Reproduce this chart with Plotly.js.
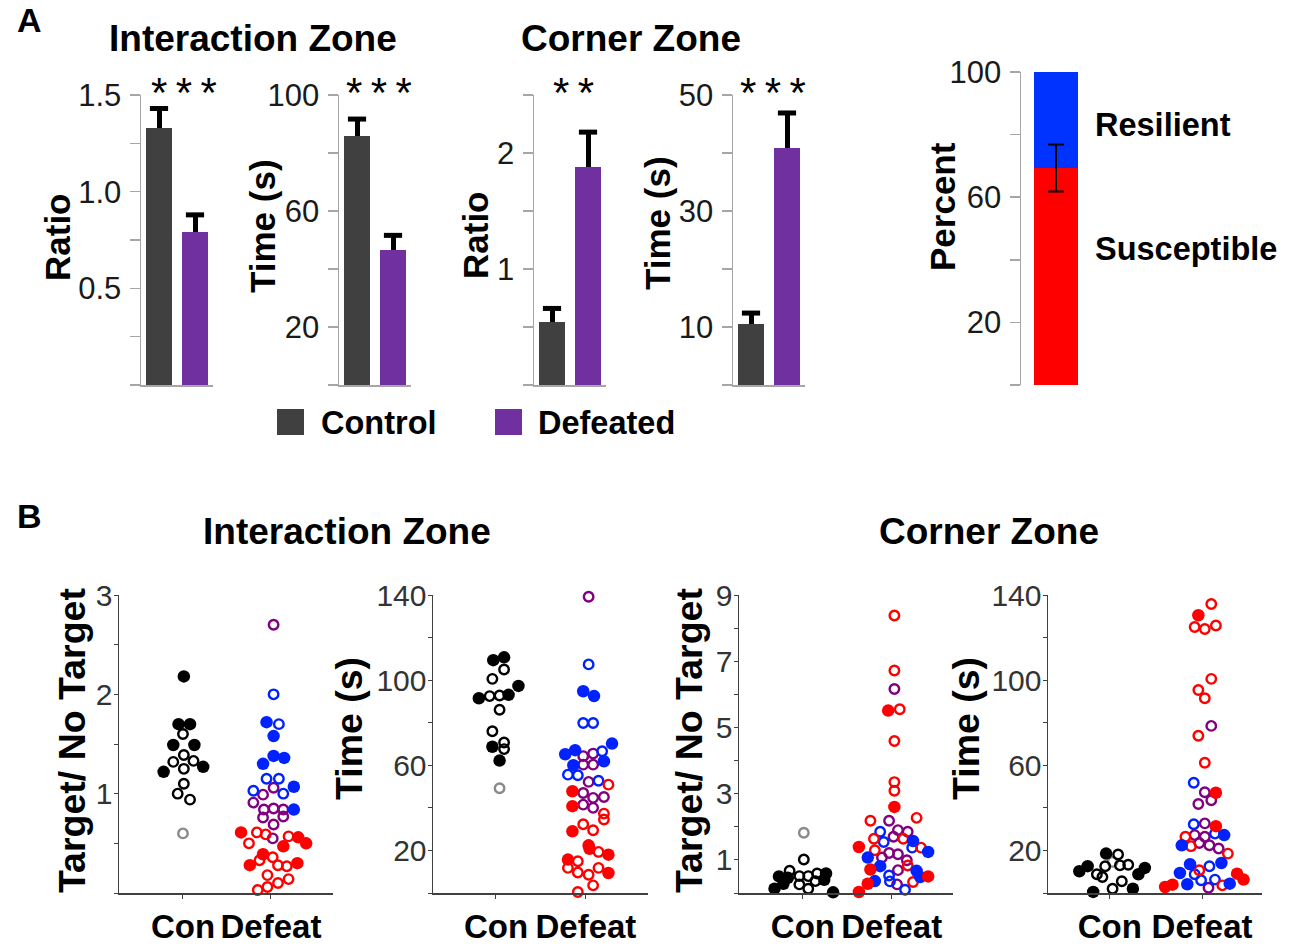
<!DOCTYPE html>
<html><head><meta charset="utf-8">
<script src="https://cdn.plot.ly/plotly-3.0.1.min.js"></script>
<style>html,body{margin:0;padding:0;background:#fff}#chart{width:1293px;height:945px}</style>
</head><body><div id="chart"></div>
<script>
// ---------- Panel A data ----------
const groupNames = ['Control', 'Defeated'];
const intRatioMean = [1.33, 0.79];
const intRatioErr  = [0.10, 0.09];
const intTimeMean  = [85.9, 46.5];
const intTimeErr   = [5.8, 5.1];
const cornRatioMean = [0.54, 1.88];
const cornRatioErr  = [0.12, 0.30];
const cornTimeMean  = [10.5, 40.8];
const cornTimeErr   = [1.9, 6.1];
const phenotypeNames = ['Susceptible', 'Resilient'];
const susceptiblePct = 69.3;
const resilientPct = 30.7;
const susceptibleErr = 7.5;

// ---------- Panel B data (y values and swarm offsets) ----------
// B1: Interaction zone, Target / No Target
const b1ConFillY = [2.18,1.70,1.70,1.49,1.49,1.22,1.27];
const b1ConFillD = [0.01,-0.05,0.08,-0.11,0.13,-0.22,0.23];
const b1ConOpenY = [1.60,1.39,1.32,1.33,1.25,1.10,1.00,0.94];
const b1ConOpenD = [0,0.01,-0.11,0.12,0.01,0.01,-0.06,0.08];
const b1ConGrayY = [0.60];
const b1ConGrayD = [0];
const b1PurOpenY = [2.70,0.99,1.06,0.91,0.84,0.85,0.84,0.76,0.77,0.69,0.55];
const b1PurOpenD = [0.03,-0.09,0.03,-0.20,-0.08,0.03,0.14,-0.09,0.14,0.03,0.02];
const b1BluOpenY = [2.00,1.70,1.15,1.15,1.03,1.00];
const b1BluOpenD = [0.03,0.09,-0.05,0.09,-0.20,0.14];
const b1BluFillY = [1.72,1.58,1.38,1.36,1.30,1.07,0.84];
const b1BluFillD = [-0.05,0.03,0.03,0.15,-0.09,0.26,0.26];
const b1RedOpenY = [0.61,0.59,0.50,0.57,0.33,0.36,0.28,0.27,0.18,0.10,0.14,0.06,0.03];
const b1RedOpenD = [-0.16,-0.06,-0.25,0.20,-0.13,0.02,0.08,0.18,-0.04,0.08,0.20,-0.04,-0.15];
const b1RedFillY = [0.61,0.47,0.56,0.50,0.39,0.28,0.30];
const b1RedFillD = [-0.34,0.14,0.31,0.40,-0.09,-0.24,0.30];
// B2: Interaction zone, Time (s)
const b2ConFillY = [109.4,110.7,97.3,93.1,91.5,68.7,62.2];
const b2ConFillD = [-0.03,0.09,0.25,0.14,-0.19,-0.04,0.04];
const b2ConOpenY = [105.0,100.6,92.5,92.8,86.1,76.0,70.7,67.6];
const b2ConOpenD = [0.09,-0.04,-0.07,0.04,0.04,-0.04,0.09,0.09];
const b2ConGrayY = [49.2];
const b2ConGrayD = [0.04];
const b2PurOpenY = [139.2,64.3,65.5,60.3,60.3,52.2,47.0,44.7,45.1,41.5,40.0];
const b2PurOpenD = [0.03,-0.03,0.08,-0.03,0.08,0.03,-0.03,0.08,0.20,-0.03,0.08];
const b2BluOpenY = [107.4,79.9,79.9,66.6,55.6,55.3,52.7];
const b2BluOpenD = [0.03,-0.03,0.08,0.18,-0.20,-0.09,0.14];
const b2BluFillY = [94.8,92.5,65.2,67.1,70.2,61.9,60.0];
const b2BluFillD = [-0.03,0.09,-0.23,-0.12,0.29,0.20,-0.14];
const b2RedOpenY = [50.9,37.3,34.5,32.3,29.5,19.3,14.9,11.8,9.6,11.8,8.6,3.6,0.5];
const b2RedOpenD = [0.25,0.20,0.20,-0.03,0.08,0.14,-0.09,-0.20,-0.09,0.14,0.03,0.08,-0.09];
const b2RedFillY = [47.8,40.8,29.0,22.4,20.8,18.0,15.7,9.4];
const b2RedFillD = [-0.15,-0.15,-0.15,0.03,0.04,0.25,-0.20,0.25];
// B3: Corner zone, Target / No Target
const b3ConFillY = [0.50,0.13,0.28,0.46,0.59,0.40,0.02];
const b3ConFillD = [-0.27,-0.32,-0.22,-0.17,0.26,0.24,0.34];
const b3ConOpenY = [1.01,0.67,0.51,0.51,0.59,0.36,0.26,0.13];
const b3ConOpenD = [0.01,-0.15,-0.04,0.06,0.16,0.14,-0.04,0.06];
const b3ConGrayY = [1.82];
const b3ConGrayD = [0.01];
const b3PurOpenY = [6.16,2.18,1.90,1.85,1.70,1.21,1.17,1.07,0.99,0.69,0.26];
const b3PurOpenD = [0.03,-0.03,0.07,0.18,0.02,-0.03,0.07,-0.11,0.17,0.07,0.06];
const b3BluOpenY = [1.85,1.54,1.37,0.53,0.35,0.10];
const b3BluOpenD = [-0.13,-0.09,0.23,-0.03,-0.02,0.15];
const b3BluFillY = [1.07,0.81,1.57,1.24,0.67,0.48,0.36];
const b3BluFillD = [-0.27,-0.13,0.24,0.41,0.28,0.32,-0.19];
const b3RedOpenY = [8.38,6.72,5.55,4.59,3.35,3.09,2.18,2.27,1.64,1.29,1.64,1.37,0.83,0.33];
const b3RedOpenD = [0.03,0.03,0.09,0.03,0.03,0.03,-0.24,0.28,-0.20,-0.19,0.13,0.33,0.18,0.24];
const b3RedFillY = [5.51,2.60,1.39,0.71,0.28,0.03,0.50];
const b3RedFillD = [-0.04,0.03,-0.37,-0.24,-0.27,-0.37,0.41];
// B4: Corner zone, Time (s)
const b4ConFillY = [18.5,10.2,12.6,8.8,11.8,2.0,0.5];
const b4ConFillD = [-0.04,-0.33,-0.24,0.31,0.38,0.25,-0.18];
const b4ConOpenY = [18.1,12.6,13.0,13.3,8.8,7.5,5.5,2.0];
const b4ConOpenD = [0.09,-0.05,0.11,0.20,-0.14,-0.08,0.13,0.03];
const b4ConGrayY = [14.6];
const b4ConGrayD = [0.03];
const b4PurOpenY = [78.5,47.3,41.8,43.6,32.7,27.2,26.4,23.5,22.4,20.9,2.5];
const b4PurOpenD = [0.10,0.03,-0.04,0.10,0.03,-0.08,0.03,-0.03,0.08,0.18,0.07];
const b4BluOpenY = [51.8,32.3,27.9,12.6,8.8,6.0,6.3];
const b4BluOpenD = [-0.09,-0.09,0.14,0.08,-0.08,-0.01,0.14];
const b4BluFillY = [22.4,27.2,13.5,14.1,9.4,4.1,4.4];
const b4BluFillD = [-0.22,0.24,-0.13,0.21,-0.24,-0.16,0.30];
const b4RedOpenY = [135.8,125.0,124.0,125.7,100.6,95.4,91.5,73.9,61.2,26.4,22.0,18.5,10.7,3.6];
const b4RedOpenD = [0.10,-0.08,0.03,0.15,0.10,-0.04,0.03,-0.04,0.03,-0.18,-0.12,0.28,-0.03,0.22];
const b4RedFillY = [130.5,47.1,31.4,2.8,3.9,9.1,6.3];
const b4RedFillD = [-0.04,0.15,0.15,-0.40,-0.32,0.38,0.45];

const xCategories = ['Con', 'Defeat'];

// ---------- styling ----------
const W = 1293, H = 945;
const px = x => x / W;
const py = y => 1 - y / H;
const FONT = 'Liberation Sans, Arial, Helvetica, sans-serif';
const C_CTRL = '#404040', C_DEF = '#7030a0';
const C_RED = '#ff0000', C_BLUE = '#0022ff', C_PUR = '#800080', C_BLK = '#000000', C_GRAY = '#8a8a8a';

const traces = [];
function barPanel(n, mean, err) {
  traces.push({
    type: 'bar', x: [0, 1], y: mean, xaxis: 'x' + n, yaxis: 'y' + n, width: 0.72,
    marker: {color: [C_CTRL, C_DEF], line: {width: 0}},
    error_y: {type: 'data', array: err, arrayminus: [0, 0], symmetric: false, thickness: 5, width: 0, color: '#000'},
    hoverinfo: 'skip', showlegend: false, name: groupNames.join('/')
  });
  traces.push({
    type: 'scatter', mode: 'markers', x: [0, 1], y: mean.map((v, i) => v + err[i]),
    xaxis: 'x' + n, yaxis: 'y' + n, cliponaxis: false,
    marker: {symbol: 'line-ew-open', size: 13, color: '#000', line: {width: 5, color: '#000'}},
    hoverinfo: 'skip', showlegend: false
  });
}
barPanel(1, intRatioMean, intRatioErr);
barPanel(2, intTimeMean, intTimeErr);
barPanel(3, cornRatioMean, cornRatioErr);
barPanel(4, cornTimeMean, cornTimeErr);

traces.push({type: 'bar', x: [0], y: [susceptiblePct], xaxis: 'x5', yaxis: 'y5', width: 0.64,
  marker: {color: C_RED, line: {width: 0}}, name: phenotypeNames[0], showlegend: false, hoverinfo: 'skip'});
traces.push({type: 'bar', x: [0], y: [resilientPct], xaxis: 'x5', yaxis: 'y5', width: 0.64,
  marker: {color: '#0033ff', line: {width: 0}}, name: phenotypeNames[1], showlegend: false, hoverinfo: 'skip'});
traces.push({type: 'scatter', mode: 'markers', x: [0], y: [susceptiblePct], xaxis: 'x5', yaxis: 'y5',
  marker: {size: 1, color: 'rgba(0,0,0,0)'},
  error_y: {type: 'data', array: [susceptibleErr], thickness: 2, width: 8, color: '#000'},
  showlegend: false, hoverinfo: 'skip'});

function swarm(n, base, ys, ds, color, filled) {
  traces.push({
    type: 'scatter', mode: 'markers', xaxis: 'x' + n, yaxis: 'y' + n, cliponaxis: false,
    x: ds.map(d => base + d), y: ys,
    marker: filled ? {symbol: 'circle', size: 12.5, color: color, line: {width: 0}}
                   : {symbol: 'circle-open', size: 9.5, color: color, line: {width: 2.4, color: color}},
    hoverinfo: 'skip', showlegend: false
  });
}
function swarmPanel(n, g) {
  swarm(n, 0, g.conGrayY, g.conGrayD, C_GRAY, false);
  swarm(n, 0, g.conOpenY, g.conOpenD, C_BLK, false);
  swarm(n, 0, g.conFillY, g.conFillD, C_BLK, true);
  swarm(n, 1, g.purOpenY, g.purOpenD, C_PUR, false);
  swarm(n, 1, g.bluOpenY, g.bluOpenD, C_BLUE, false);
  swarm(n, 1, g.redOpenY, g.redOpenD, C_RED, false);
  swarm(n, 1, g.bluFillY, g.bluFillD, C_BLUE, true);
  swarm(n, 1, g.redFillY, g.redFillD, C_RED, true);
}
swarmPanel(6, {conFillY:b1ConFillY,conFillD:b1ConFillD,conOpenY:b1ConOpenY,conOpenD:b1ConOpenD,conGrayY:b1ConGrayY,conGrayD:b1ConGrayD,
  purOpenY:b1PurOpenY,purOpenD:b1PurOpenD,bluOpenY:b1BluOpenY,bluOpenD:b1BluOpenD,bluFillY:b1BluFillY,bluFillD:b1BluFillD,
  redOpenY:b1RedOpenY,redOpenD:b1RedOpenD,redFillY:b1RedFillY,redFillD:b1RedFillD});
swarmPanel(7, {conFillY:b2ConFillY,conFillD:b2ConFillD,conOpenY:b2ConOpenY,conOpenD:b2ConOpenD,conGrayY:b2ConGrayY,conGrayD:b2ConGrayD,
  purOpenY:b2PurOpenY,purOpenD:b2PurOpenD,bluOpenY:b2BluOpenY,bluOpenD:b2BluOpenD,bluFillY:b2BluFillY,bluFillD:b2BluFillD,
  redOpenY:b2RedOpenY,redOpenD:b2RedOpenD,redFillY:b2RedFillY,redFillD:b2RedFillD});
swarmPanel(8, {conFillY:b3ConFillY,conFillD:b3ConFillD,conOpenY:b3ConOpenY,conOpenD:b3ConOpenD,conGrayY:b3ConGrayY,conGrayD:b3ConGrayD,
  purOpenY:b3PurOpenY,purOpenD:b3PurOpenD,bluOpenY:b3BluOpenY,bluOpenD:b3BluOpenD,bluFillY:b3BluFillY,bluFillD:b3BluFillD,
  redOpenY:b3RedOpenY,redOpenD:b3RedOpenD,redFillY:b3RedFillY,redFillD:b3RedFillD});
swarmPanel(9, {conFillY:b4ConFillY,conFillD:b4ConFillD,conOpenY:b4ConOpenY,conOpenD:b4ConOpenD,conGrayY:b4ConGrayY,conGrayD:b4ConGrayD,
  purOpenY:b4PurOpenY,purOpenD:b4PurOpenD,bluOpenY:b4BluOpenY,bluOpenD:b4BluOpenD,bluFillY:b4BluFillY,bluFillD:b4BluFillD,
  redOpenY:b4RedOpenY,redOpenD:b4RedOpenD,redFillY:b4RedFillY,redFillD:b4RedFillD});

// ---------- axes ----------
const layout = {
  width: W, height: H, margin: {l: 0, r: 0, t: 0, b: 0},
  paper_bgcolor: '#fff', plot_bgcolor: 'rgba(0,0,0,0)',
  barmode: 'stack', showlegend: false,
  font: {family: FONT, color: '#000'},
  annotations: [], shapes: []
};
const A_LINE = '#a6a6a6', B_LINE = '#404040';
function aAxes(n, x0, x1, yTop, range, tickvals, ticktext, showX) {
  layout['xaxis' + n] = {domain: [px(x0), px(x1)], range: [-0.5, 1.5], anchor: 'y' + n,
    showline: showX, linecolor: A_LINE, linewidth: 1.5, showticklabels: false, ticks: '',
    showgrid: false, zeroline: false, fixedrange: true, visible: showX};
  layout['yaxis' + n] = {domain: [py(385), py(yTop)], range: range, anchor: 'x' + n,
    tickmode: 'array', tickvals: tickvals, ticktext: ticktext,
    ticks: 'outside', ticklen: 10, tickwidth: 1.5, tickcolor: A_LINE,
    showline: true, linecolor: A_LINE, linewidth: 1.5, showgrid: false, zeroline: false,
    tickfont: {family: FONT, size: 31, color: '#1a1a1a'}, ticklabelstandoff: 2, fixedrange: true};
}
aAxes(1, 141, 213, 95, [0, 1.5], [0,0.25,0.5,0.75,1,1.25,1.5], ['','','0.5','','1.0','','1.5'], true);
aAxes(2, 339, 411, 95, [0, 100], [0,20,40,60,80,100], ['','20','','60','','100'], true);
aAxes(3, 534, 606, 95, [0, 2.5], [0,0.5,1,1.5,2,2.5], ['','','1','','2',''], true);
aAxes(4, 733, 805, 95, [0, 50], [0,10,20,30,40,50], ['','10','','30','','50'], true);
aAxes(5, 1021, 1091, 72, [0, 100], [0,20,40,60,80,100], ['','20','','60','','100'], false);
layout.xaxis5.range = [-0.5, 0.5];

function bAxes(n, x0, x1, xr, range, tickvals, ticktext) {
  layout['xaxis' + n] = {domain: [px(x0), px(x1)], range: xr, anchor: 'y' + n,
    tickmode: 'array', tickvals: [0, 1], ticktext: xCategories, tickangle: 0,
    ticks: 'outside', ticklen: 4, tickwidth: 1, tickcolor: B_LINE,
    showline: true, linecolor: B_LINE, linewidth: 1.5, showgrid: false, zeroline: false,
    tickfont: {family: FONT, size: 33, color: '#000', weight: 'bold'}, ticklabelstandoff: 0, fixedrange: true};
  layout['yaxis' + n] = {domain: [py(893), py(595)], range: range, anchor: 'x' + n,
    tickmode: 'array', tickvals: tickvals, ticktext: ticktext,
    ticks: 'outside', ticklen: 4, tickwidth: 1, tickcolor: B_LINE,
    showline: true, linecolor: B_LINE, linewidth: 1.5, showgrid: false, zeroline: false,
    tickfont: {family: FONT, size: 30, color: '#333'}, ticklabelstandoff: -5, fixedrange: true};
}
bAxes(6, 119, 333, [-0.727, 1.705], [0, 3], [0,0.5,1,1.5,2,2.5,3], ['','','1','','2','','3']);
bAxes(7, 433, 648, [-0.70, 1.69], [0, 140], [0,20,40,60,80,100,120,140], ['','20','','60','','100','','140']);
bAxes(8, 739, 953, [-0.72, 1.69], [0, 9], [0,1,2,3,4,5,6,7,8,9], ['','1','','3','','5','','7','','9']);
bAxes(9, 1048, 1262, [-0.67, 1.65], [0, 140], [0,20,40,60,80,100,120,140], ['','20','','60','','100','','140']);

// ---------- text ----------
function ann(text, x, y, size, o) {
  layout.annotations.push(Object.assign({
    text: text, xref: 'paper', yref: 'paper', x: px(x), y: py(y),
    xanchor: 'center', yanchor: 'middle', showarrow: false,
    font: {family: FONT, size: size, color: '#000', weight: 'bold'}
  }, o || {}));
}
ann('A', 29, 20, 34);
ann('B', 29, 516, 34);
ann('Interaction Zone', 253, 38, 37);
ann('Corner Zone', 631, 38, 37);
ann('Interaction Zone', 347, 531, 37);
ann('Corner Zone', 989, 531, 37);
// y-axis titles
ann('Ratio', 57, 237, 35, {textangle: -90});
ann('Time (s)', 263, 226, 35, {textangle: -90});
ann('Ratio', 476, 235, 35, {textangle: -90});
ann('Time (s)', 658, 223, 35, {textangle: -90});
ann('Percent', 942, 207, 35, {textangle: -90});
ann('Target/ No Target', 72, 741, 37.5, {textangle: -90});
ann('Time (s)', 349, 729, 37.5, {textangle: -90});
ann('Target/ No Target', 689, 741, 37.5, {textangle: -90});
ann('Time (s)', 966, 729, 37.5, {textangle: -90});
// significance stars
const starFont = {family: FONT, size: 42, color: '#000', weight: 'normal'};
const TS = '\u2009';
ann(['*','*','*'].join(TS), 184, 93, 42, {font: starFont});
ann(['*','*','*'].join(TS), 379, 93, 42, {font: starFont});
ann(['*','*'].join(TS), 573, 93, 42, {font: starFont});
ann(['*','*','*'].join(TS), 773, 93, 42, {font: starFont});
// phenotype labels
ann('Resilient', 1093, 125, 32.5, {xanchor: 'left'});
ann('Susceptible', 1093, 249, 32.5, {xanchor: 'left'});
// legend
ann(groupNames[0], 319, 423, 32.5, {xanchor: 'left'});
ann(groupNames[1], 536, 423, 32.5, {xanchor: 'left'});
layout.shapes.push({type: 'rect', xref: 'paper', yref: 'paper', x0: px(277), x1: px(304), y0: py(409), y1: py(435),
  fillcolor: C_CTRL, line: {width: 0}});
layout.shapes.push({type: 'rect', xref: 'paper', yref: 'paper', x0: px(495), x1: px(522), y0: py(409), y1: py(435),
  fillcolor: C_DEF, line: {width: 0}});

Plotly.newPlot('chart', traces, layout, {staticPlot: true, displayModeBar: false});
</script></body></html>
